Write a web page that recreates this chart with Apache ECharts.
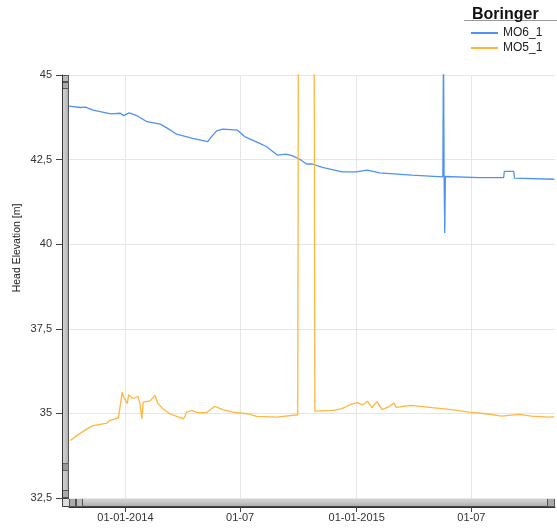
<!DOCTYPE html>
<html>
<head>
<meta charset="utf-8">
<script src="https://cdn.jsdelivr.net/npm/echarts@6/dist/echarts.min.js"></script>
<style>
  html, body { margin: 0; padding: 0; background: #fff; }
  #chart { width: 557px; height: 529px; }
</style>
</head>
<body>
<div id="chart"></div>
<script>
// Well MO6_1 head elevation [m]
const mo6Dates = [
  '2013-10-04','2013-10-22','2013-10-30','2013-11-11','2013-12-09','2013-12-24','2013-12-29',
  '2014-01-07','2014-01-20','2014-02-04','2014-02-25','2014-02-28','2014-03-08','2014-03-23',
  '2014-04-17','2014-05-11','2014-05-17','2014-05-25','2014-06-04','2014-06-27','2014-07-08',
  '2014-08-01','2014-08-12','2014-08-29','2014-09-12','2014-09-22','2014-10-03','2014-10-14',
  '2014-10-23','2014-11-08','2014-12-09','2014-12-31','2015-01-18','2015-02-06','2015-03-29',
  '2015-05-17','2015-05-18','2015-05-19','2015-05-20','2015-05-21','2015-05-23','2015-07-13',
  '2015-08-21','2015-08-22','2015-09-06','2015-09-07','2015-11-09'
];
const mo6Values = [
  44.08, 44.04, 44.05, 43.96, 43.85, 43.87, 43.80,
  43.88, 43.79, 43.62, 43.55, 43.59, 43.43, 43.25,
  43.13, 43.03, 43.18, 43.35, 43.40, 43.37, 43.18,
  42.98, 42.88, 42.63, 42.66, 42.61, 42.51, 42.37,
  42.37, 42.27, 42.14, 42.14, 42.19, 42.11, 42.04,
  41.99, 46.00, 41.99, 40.33, 42.00, 42.00, 41.97,
  41.97, 42.15, 42.15, 41.95, 41.92
];

// Well MO5_1 head elevation [m]
const mo5Dates = [
  '2013-10-06','2013-10-17','2013-11-02','2013-11-11','2013-12-03','2013-12-06','2013-12-07',
  '2013-12-21','2013-12-24','2013-12-27','2013-12-29','2014-01-04','2014-01-06','2014-01-13',
  '2014-01-21','2014-01-24','2014-01-27','2014-01-29','2014-02-09','2014-02-17','2014-02-21',
  '2014-03-01','2014-03-12','2014-03-23','2014-04-03','2014-04-08','2014-04-16','2014-04-24',
  '2014-05-09','2014-05-22','2014-06-04','2014-06-19','2014-07-13','2014-07-27','2014-08-28',
  '2014-09-30','2014-10-01','2014-10-26','2014-10-27','2014-11-24','2014-12-09','2014-12-23',
  '2015-01-02','2015-01-10','2015-01-18','2015-01-25','2015-02-02','2015-02-10','2015-02-21',
  '2015-03-01','2015-03-04','2015-03-28','2015-04-30','2015-05-31','2015-06-27','2015-07-24',
  '2015-08-18','2015-09-14','2015-10-04','2015-10-31','2015-11-09'
];
const mo5Values = [
  34.20, 34.35, 34.55, 34.64, 34.71, 34.78, 34.75,
  34.87, 34.90, 35.63, 35.50, 35.29, 35.55, 35.44,
  35.50, 35.29, 34.84, 35.33, 35.37, 35.53, 35.30,
  35.14, 34.99, 34.91, 34.84, 35.04, 35.09, 35.02,
  35.02, 35.21, 35.11, 35.04, 34.99, 34.91, 34.89,
  34.96, 46.00, 46.00, 35.07, 35.09, 35.14, 35.27,
  35.32, 35.25, 35.36, 35.17, 35.35, 35.11, 35.20,
  35.31, 35.18, 35.24, 35.17, 35.11, 35.04, 34.99,
  34.92, 34.97, 34.92, 34.89, 34.90
];

// Time axis ticks and their labels
const xTickDates = ['2014-01-01', '2014-07-01', '2015-01-01', '2015-07-01'];
const xTickLabels = ['01-01-2014', '01-07', '01-01-2015', '01-07'];
const xMin = '2013-10-04';
const xMax = '2015-11-10';

const seriesNames = ['MO6_1', 'MO5_1'];
const legendTitle = 'Boringer';
const yAxisTitle = 'Head Elevation [m]';

// dates are handled as UTC millisecond timestamps on a numeric axis
const ts = (d) => Date.parse(d + 'T00:00:00Z');
const pair = (d, v) => d.map((x, i) => [ts(x), v[i]]);
const tickTimes = xTickDates.map(ts);

const chart = echarts.init(document.getElementById('chart'));

// Gray scrollbar-like strips along the left and bottom of the plot
const barGrad = (horizontal) => new echarts.graphic.LinearGradient(
  0, 0, horizontal ? 0 : 1, horizontal ? 1 : 0,
  [{ offset: 0, color: '#d9d9d9' }, { offset: 0.5, color: '#c4c4c4' }, { offset: 1, color: '#a8a8a8' }]
);

chart.setOption({
  animation: false,
  textStyle: { fontFamily: 'Liberation Sans, Arial, sans-serif' },
  title: {
    text: legendTitle,
    left: 467, top: 2,
    textStyle: { fontSize: 16, fontWeight: 'bold', color: '#111' }
  },
  legend: {
    data: seriesNames,
    orient: 'vertical',
    left: 471, top: 27, padding: 0,
    itemWidth: 27, itemHeight: 2, itemGap: 3,
    icon: 'rect',
    textStyle: { fontSize: 12, color: '#222' }
  },
  grid: { left: 69, right: 2, top: 75, bottom: 31, containLabel: false },
  xAxis: {
    type: 'value',
    min: ts(xMin), max: ts(xMax),
    offset: 9,
    axisLine: { show: true, lineStyle: { color: '#333', width: 1 } },
    axisTick: { show: true, length: 5, customValues: tickTimes, lineStyle: { color: '#444' } },
    axisLabel: {
      customValues: tickTimes,
      margin: 5,
      fontSize: 11, color: '#333',
      formatter: (v) => {
        const i = tickTimes.indexOf(v);
        return i >= 0 ? xTickLabels[i] : '';
      }
    },
    splitLine: { show: true, lineStyle: { color: '#e6e6e6', width: 1 } }
  },
  yAxis: {
    type: 'value',
    min: 32.5, max: 45, interval: 2.5,
    offset: 7,
    axisLine: { show: true, lineStyle: { color: '#333' } },
    axisTick: { show: true, length: 6, lineStyle: { color: '#444' } },
    axisLabel: {
      margin: 10, fontSize: 11, color: '#333',
      formatter: (v) => String(v).replace('.', ',')
    },
    splitLine: { show: true, lineStyle: { color: '#e6e6e6', width: 1 } }
  },
  series: [
    {
      name: seriesNames[0], type: 'line', showSymbol: false,
      data: pair(mo6Dates, mo6Values),
      lineStyle: { color: '#4f93f0', width: 1.3 }, itemStyle: { color: '#4f93f0' }
    },
    {
      name: seriesNames[1], type: 'line', showSymbol: false,
      data: pair(mo5Dates, mo5Values),
      lineStyle: { color: '#ffb740', width: 1.3 }, itemStyle: { color: '#ffb740' }
    }
  ],
  graphic: [
    // y axis title
    { type: 'text', x: 17, y: 248, rotation: Math.PI / 2,
      style: { text: yAxisTitle, fontSize: 10.5, fill: '#222', align: 'center', verticalAlign: 'middle',
               fontFamily: 'Liberation Sans, Arial, sans-serif' } },
    // legend title underline
    { type: 'line', shape: { x1: 464, y1: 20.5, x2: 557, y2: 20.5 }, style: { stroke: '#999', lineWidth: 1 } },
    // vertical strip
    { type: 'rect', shape: { x: 62.5, y: 75.5, width: 6, height: 422 },
      style: { fill: barGrad(false), stroke: '#555', lineWidth: 1 } },
    { type: 'rect', shape: { x: 62.5, y: 75.5, width: 6, height: 6 }, style: { fill: '#bbb', stroke: '#555' } },
    { type: 'rect', shape: { x: 62.5, y: 82.5, width: 6, height: 6 }, style: { fill: '#aaa', stroke: '#555' } },
    { type: 'rect', shape: { x: 62.5, y: 463.5, width: 6, height: 7 }, style: { fill: '#999', stroke: '#666' } },
    { type: 'rect', shape: { x: 62.5, y: 490.5, width: 6, height: 7 }, style: { fill: '#aaa', stroke: '#555' } },
    // horizontal strip
    { type: 'rect', shape: { x: 62.5, y: 498.5, width: 492, height: 8 },
      style: { fill: barGrad(true), stroke: '#444', lineWidth: 1 } },
    { type: 'rect', shape: { x: 62.5, y: 498.5, width: 7, height: 8 }, style: { fill: '#ddd', stroke: '#444' } },
    { type: 'rect', shape: { x: 69.5, y: 498.5, width: 6, height: 8 }, style: { fill: '#aaa', stroke: '#555' } },
    { type: 'rect', shape: { x: 76.5, y: 498.5, width: 6, height: 8 }, style: { fill: '#bbb', stroke: '#555' } },
    { type: 'rect', shape: { x: 547.5, y: 498.5, width: 7, height: 8 }, style: { fill: '#aaa', stroke: '#555' } }
  ]
});
</script>
</body>
</html>
